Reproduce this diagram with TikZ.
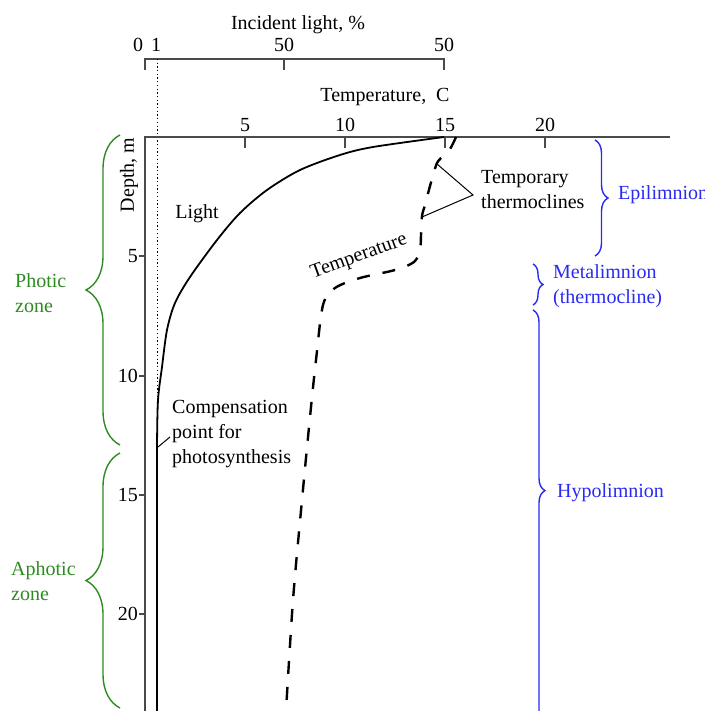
\documentclass[tikz,border=0pt]{standalone}
\usepackage{fontspec}
\setmainfont{Liberation Serif}
\usetikzlibrary{decorations.pathreplacing,positioning}
\definecolor{zonegreen}{HTML}{2E8B22}
\definecolor{limnoblue}{HTML}{2A2AF2}
\definecolor{axisgray}{HTML}{4A4A4A}

\begin{document}
\begin{tikzpicture}[x=1pt,y=-1pt,
  every node/.style={font=\fontsize{20}{25}\selectfont,inner sep=0pt},
  axisline/.style={axisgray,line width=2pt},
  zonebrace/.style={zonegreen,line width=1.4pt,decorate},
  limnobrace/.style={limnoblue,line width=1.4pt,decorate},
  lbl/.style={align=left,anchor=west}]
  \useasboundingbox (0,0) rectangle (704,711);
  % light axis
  \draw[axisline] (145,70)--(145,59)--(444,59)--(444,70);
  \draw[axisline] (284,59)--(284,70);
  \node (lightTitle) at (298,25) {Incident light, \%};
  \foreach \x/\t [count=\i] in {138/0,156/1,284/50,444/50}
    \node (lt\i) at (\x,45) {\t};
  \draw[line width=1pt,dash pattern=on 1.3pt off 2.4pt] (157,59)--(157,711);
  % temperature and depth axes
  \draw[axisline] (145,711)--(145,137)--(670,137);
  \node (tempTitle) at (385,97) {Temperature,~~C};
  \foreach \t in {5,10,15,20}{
    \draw[axisline] ({145+20*\t},137)--({145+20*\t},148);
    \node (tt\t) at ({145+20*\t},125) {\t};
  }
  \foreach \d/\y in {5/256,10/376,15/495,20/614}{
    \draw[axisline] (139,\y)--(145,\y);
    \node[anchor=east] (dt\d) at (138,\y) {\d};
  }
  \node[rotate=90] (depthTitle) at (129,175) {Depth, m};
  % curves
  \draw[line width=1.8pt] plot[smooth] coordinates {(444,137) (373,147) (340,155) (300,170) (267,190)
    (240,213) (217,240) (190,277) (175,303) (167,330) (162,367) (158,400) (157,447) (157,500) (157,711)};
  \draw[line width=2.4pt,dash pattern=on 13pt off 13pt] plot[smooth] coordinates {(456,137) (450,149)
    (441,158) (437,163) (434,172) (430,186) (425,205) (422,216) (421,235) (420,250) (414,262) (395,270)
    (360,278) (335,288) (323,305) (316,360) (310,417) (302,500) (293,600) (286,711)};
  \coordinate (thermoA) at (437,164);
  \coordinate (thermoB) at (422,217);
  \coordinate (compPt) at (158,447);
  \node (lightLbl) at (197,214) {Light};
  \node[rotate=20] (tempLbl) at (359,257) {Temperature};
  \node[lbl] (thermoLbl) at (481,190) {Temporary\\thermoclines};
  \draw[line width=1pt] (thermoA)--([xshift=-8pt,yshift=-5pt]thermoLbl.west)--(thermoB);
  \node[lbl] (compLbl) at (172,434) {Compensation\\point for\\photosynthesis};
  \draw[line width=1pt] (compPt)--([xshift=-2pt,yshift=-3pt]compLbl.west);
  % zones
  \draw[zonebrace,decoration={brace,amplitude=34pt}] (120,445)--(120,135);
  \draw[zonebrace,decoration={brace,amplitude=34pt}] (120,708)--(120,453);
  \node[lbl,text=zonegreen] (photicLbl) at (15,293) {Photic\\zone};
  \node[lbl,text=zonegreen] (aphoticLbl) at (11,581) {Aphotic\\zone};
  \draw[limnobrace,decoration={brace,amplitude=13pt}] (595,140)--(595,256);
  \draw[limnobrace,decoration={brace,amplitude=10pt}] (533,264)--(533,305);
  \draw[limnobrace,decoration={brace,amplitude=12pt,aspect=0.43}] (533,310)--(533,730);
  \node[lbl,text=limnoblue] (epiLbl) at (618,195) {Epilimnion};
  \node[lbl,text=limnoblue] (metaLbl) at (553,286) {Metalimnion\\(thermocline)};
  \node[lbl,text=limnoblue] (hypoLbl) at (557,493) {Hypolimnion};
\end{tikzpicture}
\end{document}
